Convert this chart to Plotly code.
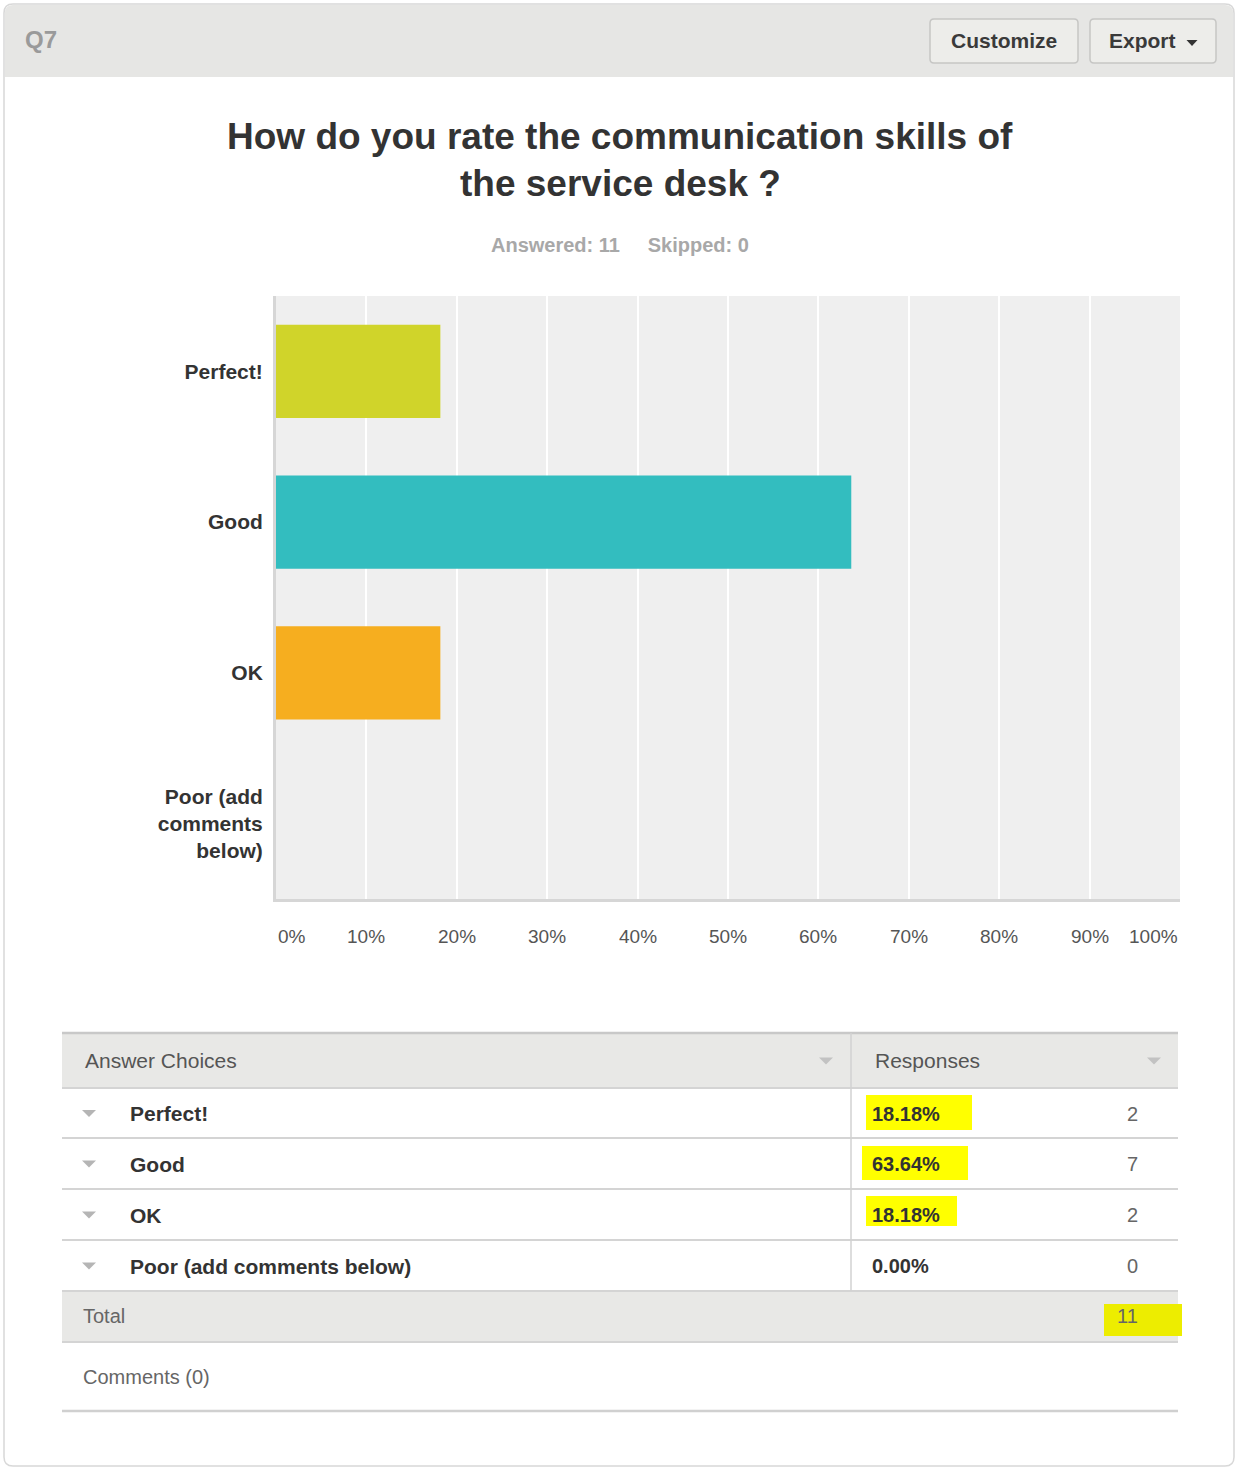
import plotly.graph_objects as go

# ---- survey data -------------------------------------------------------
question = "Q7"
title_lines = ["How do you rate the communication skills of", "the service desk ?"]
answered = 11
skipped = 0
choices = ["Perfect!", "Good", "OK", "Poor (add comments below)"]
axis_labels = ["Perfect!", "Good", "OK", "Poor (add<br>comments<br>below)"]
counts = [2, 7, 2, 0]
bar_colors = ["#D0D42A", "#33BDBF", "#F6AE1F", "#B8B8B8"]
x_ticks = list(range(0, 101, 10))
x_tick_labels = [f"{v}%" for v in x_ticks]

total = sum(counts)
percents = [c / total * 100 for c in counts]

# ---- page geometry helpers (pixel -> paper) ----------------------------
W, H = 1236, 1468
FONT = "Liberation Sans, Arial, sans-serif"


def fx(x):
    return x / W


def fy(y):
    return 1 - y / H


def rect(x0, y0, x1, y1, fill=None, line=None, lw=0):
    return dict(type="rect", xref="paper", yref="paper",
                x0=fx(x0), x1=fx(x1), y0=fy(y1), y1=fy(y0),
                fillcolor=fill or "rgba(0,0,0,0)",
                line=dict(color=line or "rgba(0,0,0,0)", width=lw))


def rounded(x0, y0, x1, y1, r, fill=None, line=None, lw=1):
    p = (f"M {fx(x0 + r)} {fy(y0)} L {fx(x1 - r)} {fy(y0)} "
         f"Q {fx(x1)} {fy(y0)} {fx(x1)} {fy(y0 + r)} "
         f"L {fx(x1)} {fy(y1 - r)} Q {fx(x1)} {fy(y1)} {fx(x1 - r)} {fy(y1)} "
         f"L {fx(x0 + r)} {fy(y1)} Q {fx(x0)} {fy(y1)} {fx(x0)} {fy(y1 - r)} "
         f"L {fx(x0)} {fy(y0 + r)} Q {fx(x0)} {fy(y0)} {fx(x0 + r)} {fy(y0)} Z")
    return dict(type="path", xref="paper", yref="paper", path=p,
                fillcolor=fill or "rgba(0,0,0,0)",
                line=dict(color=line or "rgba(0,0,0,0)", width=lw))


def hline(x0, x1, y, color="#D2D2D2", lw=2):
    return dict(type="line", xref="paper", yref="paper",
                x0=fx(x0), x1=fx(x1), y0=fy(y), y1=fy(y),
                line=dict(color=color, width=lw))


def vline(x, y0, y1, color="#D2D2D2", lw=1.5):
    return dict(type="line", xref="paper", yref="paper",
                x0=fx(x), x1=fx(x), y0=fy(y0), y1=fy(y1),
                line=dict(color=color, width=lw))


def caret(cx, cy, w=14, h=7, color="#B5B5B5"):
    p = (f"M {fx(cx - w / 2)} {fy(cy - h / 2)} L {fx(cx + w / 2)} {fy(cy - h / 2)} "
         f"L {fx(cx)} {fy(cy + h / 2)} Z")
    return dict(type="path", xref="paper", yref="paper", path=p,
                fillcolor=color, line=dict(width=0))


def text(x, y, s, size=19, color="#333333", anchor="left", bold=False, family=FONT):
    if bold:
        s = f"<b>{s}</b>"
    return dict(xref="paper", yref="paper", x=fx(x), y=fy(y), text=s,
                showarrow=False, xanchor=anchor, yanchor="middle",
                font=dict(family=family, size=size, color=color))


# ---- bar chart ---------------------------------------------------------
fig = go.Figure()
fig.add_trace(go.Bar(
    y=choices, x=percents, orientation="h",
    marker=dict(color=bar_colors, line=dict(width=0)),
    hovertemplate="%{y}: %{x:.2f}%<extra></extra>",
))

shapes = []
annotations = []

# card outline and header band
shapes.append(rounded(4, 4, 1234, 1466, 9, line="#D8D8D8", lw=1.5))
shapes.append(dict(type="path", xref="paper", yref="paper",
                   path=(f"M {fx(5)} {fy(77)} L {fx(5)} {fy(13)} Q {fx(5)} {fy(5)} {fx(13)} {fy(5)} "
                         f"L {fx(1225)} {fy(5)} Q {fx(1233)} {fy(5)} {fx(1233)} {fy(13)} "
                         f"L {fx(1233)} {fy(77)} Z"),
                   fillcolor="#E6E6E4", line=dict(width=0)))
annotations.append(text(23, 39, question, size=24, color="#9A9A9A", bold=True))

# header buttons
shapes.append(rounded(930, 19, 1078, 63, 4, fill="#EDEDEA", line="#C6C6C4", lw=1.5))
shapes.append(rounded(1090, 19, 1216, 63, 4, fill="#EDEDEA", line="#C6C6C4", lw=1.5))
annotations.append(text(1004, 41, "Customize", size=21, color="#3A3A3A", anchor="center", bold=True))
annotations.append(text(1107, 41, "Export", size=21, color="#3A3A3A", bold=True))
shapes.append(caret(1192, 43, w=11, h=6, color="#333333"))

# title and summary
annotations.append(text(620, 137, title_lines[0], size=37, color="#333333", anchor="center", bold=True))
annotations.append(text(620, 184, title_lines[1], size=37, color="#333333", anchor="center", bold=True))
annotations.append(text(620, 245, f"Answered: {answered}&nbsp;&nbsp;&nbsp;&nbsp;&nbsp;Skipped: {skipped}",
                        size=20, color="#A8A8A8", anchor="center", bold=True))

# x tick labels under the plot
for i, (v, lab) in enumerate(zip(x_ticks, x_tick_labels)):
    anchor = "left" if i == 0 else ("right" if i == len(x_ticks) - 1 else "center")
    annotations.append(dict(xref="x", yref="paper", x=v, y=fy(936), text=lab,
                            showarrow=False, xanchor=anchor, yanchor="middle",
                            font=dict(family=FONT, size=19, color="#555555")))

# ---- results table -----------------------------------------------------
TX0, TX1, TDIV = 62, 1178, 851
header_top, header_bot = 1033, 1088
row_bounds = [1088, 1138, 1189, 1240, 1291]
total_bot = 1342
comments_line = 1411

shapes.append(rect(TX0, header_top, TX1, header_bot, fill="#E8E8E6"))
shapes.append(rect(TX0, row_bounds[-1], TX1, total_bot, fill="#E8E8E6"))

# hand-drawn highlighter marks
highlight_boxes = [(866, 1095, 972, 1130), (862, 1146, 968, 1180), (866, 1196, 957, 1226)]
for b in highlight_boxes:
    shapes.append(rect(*b, fill="#FFFF00"))
shapes.append(rect(1104, 1304, 1182, 1336, fill="#EDED00"))

shapes.append(hline(TX0, TX1, header_top, color="#C8C8C8", lw=2.5))
for yb in row_bounds + [total_bot]:
    shapes.append(hline(TX0, TX1, yb, color="#D4D4D4", lw=2))
shapes.append(hline(TX0, TX1, comments_line, color="#D0D0D0", lw=2.5))
shapes.append(vline(TDIV, header_top, row_bounds[-1], color="#D2D2D2", lw=1.5))

annotations.append(text(83, 1060, "Answer Choices", size=21, color="#555555"))
annotations.append(text(873, 1060, "Responses", size=21, color="#555555"))
shapes.append(caret(826, 1061, w=14, h=7, color="#C2C2C2"))
shapes.append(caret(1154, 1061, w=14, h=7, color="#C2C2C2"))

for i, (name, pct, cnt) in enumerate(zip(choices, percents, counts)):
    yc = (row_bounds[i] + row_bounds[i + 1]) / 2 + 0.5
    shapes.append(caret(89, yc, w=14, h=7, color="#B5B5B5"))
    annotations.append(text(128, yc, name, size=21, color="#333333", bold=True))
    annotations.append(text(870, yc, f"{pct:.2f}%", size=20, color="#333333", bold=True))
    annotations.append(text(1140, yc, str(cnt), size=20, color="#666666", anchor="right"))

annotations.append(text(81, 1316, "Total", size=20, color="#666666"))
annotations.append(text(1140, 1316, str(total), size=20, color="#666666", anchor="right"))
annotations.append(text(81, 1377, "Comments (0)", size=20, color="#666666"))

fig.update_layout(
    width=W, height=H,
    margin=dict(l=0, r=0, t=0, b=0),
    paper_bgcolor="#FFFFFF",
    plot_bgcolor="#EFEFEF",
    showlegend=False,
    bargap=0.38,
    font=dict(family=FONT, color="#333333"),
    xaxis=dict(domain=[fx(276), fx(1180)], range=[0, 100],
               tickvals=x_ticks, showticklabels=False,
               showgrid=True, gridcolor="#FFFFFF", gridwidth=2,
               zeroline=False, showline=True, linecolor="#D6D6D6", linewidth=3,
               fixedrange=True),
    yaxis=dict(domain=[fy(899), fy(296)],
               categoryorder="array", categoryarray=choices, autorange="reversed",
               tickvals=choices, ticktext=[f"<b>{t}</b>" for t in axis_labels],
               tickfont=dict(family=FONT, size=21, color="#333333"),
               ticks="", ticklabelstandoff=6,
               showgrid=False, zeroline=False,
               showline=True, linecolor="#D6D6D6", linewidth=3,
               fixedrange=True),
    shapes=shapes,
    annotations=annotations,
)

fig.write_html("out.html")
